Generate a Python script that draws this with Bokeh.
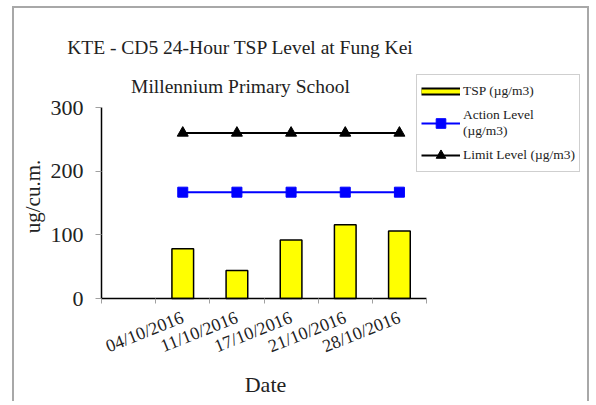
import math
import numpy as np
from bokeh.plotting import figure
from bokeh.models import Range1d, FixedTicker, Legend, LegendItem, Label
from bokeh.embed import file_html
from bokeh.resources import INLINE

# ---- data ----
categories = ["", "04/10/2016", "11/10/2016", "17/10/2016", "21/10/2016", "28/10/2016"]
tsp = [np.nan, 78, 44, 92, 116, 106]
action_level = [np.nan, 167, 167, 167, 167, 167]
limit_level = [np.nan, 260, 260, 260, 260, 260]
y_ticks = [0, 100, 200, 300]
title_lines = ["KTE - CD5 24-Hour TSP Level at Fung Kei", "Millennium Primary School"]
x_title = "Date"
y_title = "ug/cu.m."

FONT = "Liberation Serif"
idx = list(range(len(categories)))

# ---- layout (screen pixels; canvas = plot frame) ----
W, H = 577, 395
AX_LEFT, AX_BOTTOM = 87, 105     # axis origin measured from canvas left / bottom
AX_W, AX_H = 325, 191            # visible axis box size
x0, x1 = -0.5, len(categories) - 0.5
y0, y1 = 0, max(y_ticks)
px_x = AX_W / (x1 - x0)
px_y = AX_H / (y1 - y0)
xs = x0 - AX_LEFT / px_x
ys = y0 - AX_BOTTOM / px_y

p = figure(width=W, height=H, x_range=Range1d(xs, xs + W / px_x), y_range=Range1d(ys, ys + H / px_y),
           output_backend="svg", toolbar_location=None,
           min_border_left=0, min_border_right=0, min_border_top=0, min_border_bottom=0)
p.title = None
p.outline_line_color = None
p.xgrid.visible = False
p.ygrid.visible = False
p.background_fill_color = "white"
p.border_fill_color = "white"
p.styles = {"margin-left": "12px", "margin-top": "6px",
            "border-left": "2px solid #a8a8a8", "border-top": "2px solid #a8a8a8",
            "border-right": "2px solid #a8a8a8"}

# bars
bars = p.vbar(x=idx, top=tsp, width=0.4, fill_color="#FFFF00", line_color="black", line_width=1.5)
# lines
act_l = p.line(idx, action_level, line_color="#0000FF", line_width=2)
act_m = p.scatter(idx, action_level, marker="square", size=10, fill_color="#0000FF", line_color="#0000FF")
lim_l = p.line(idx, limit_level, line_color="black", line_width=2)
lim_m = p.scatter(idx, limit_level, marker="triangle", size=11, fill_color="black", line_color="black")

# legend-only glyphs for the flat bar swatch
leg_b = p.line([0], [np.nan], line_color="black", line_width=8)
leg_y = p.line([0], [np.nan], line_color="#FFFF00", line_width=4)

# axes (drawn at fixed positions inside the full-canvas frame)
xa = p.xaxis[0]
xa.fixed_location = y0
xa.bounds = (x0, x1)
xa.ticker = FixedTicker(ticks=idx, minor_ticks=[i - 0.5 for i in idx] + [idx[-1] + 0.5])
xa.major_label_overrides = {i: c for i, c in zip(idx, categories)}
xa.major_label_orientation = 0.38
xa.major_tick_line_color = None
xa.minor_tick_line_color = "#a0a0a0"
xa.minor_tick_out = 5
xa.minor_tick_in = 0
xa.axis_line_color = "black"
xa.axis_line_width = 1.5
xa.major_label_text_font = FONT
xa.major_label_text_font_size = "18px"
xa.major_label_text_color = "#222222"
xa.major_label_standoff = 12

ya = p.yaxis[0]
ya.fixed_location = x0
ya.bounds = (y0, y1)
ya.ticker = FixedTicker(ticks=y_ticks)
ya.minor_tick_line_color = None
ya.major_tick_line_color = "#a0a0a0"
ya.major_tick_out = 6
ya.major_tick_in = 0
ya.axis_line_color = "black"
ya.axis_line_width = 1.5
ya.major_label_text_font = FONT
ya.major_label_text_font_size = "22px"
ya.major_label_text_color = "#222222"
ya.major_label_standoff = 12

def add_text(text, x, y, size, angle=0.0, baseline="alphabetic"):
    p.add_layout(Label(x=x, y=y, x_units="screen", y_units="screen", text=text, angle=angle,
                       text_align="center", text_baseline=baseline,
                       text_font=FONT, text_font_size=size, text_color="#222222"))

# title (two centred lines)
add_text(title_lines[0], 226, 356, "19.5px")
add_text(title_lines[1], 226, 317, "19.5px")
# axis titles
add_text(x_title, 251, 19, "22px")
add_text(y_title, 18, 207, "21px", angle=math.pi / 2, baseline="middle")

legend = Legend(items=[
    LegendItem(label="TSP (µg/m3)", renderers=[leg_b, leg_y]),
    LegendItem(label="Action Level\n(µg/m3)", renderers=[act_l, act_m]),
    LegendItem(label="Limit Level (µg/m3)", renderers=[lim_l, lim_m]),
], location=(402, 231))
legend.label_text_font = FONT
legend.label_text_font_size = "13.5px"
legend.label_text_color = "#222222"
legend.glyph_width = 39
legend.glyph_height = 24
legend.label_height = 15
legend.label_standoff = 3
legend.spacing = 4
legend.padding = 4
legend.margin = 0
legend.border_line_color = "#a0a0a0"
legend.border_line_width = 1
legend.background_fill_color = "white"
legend.background_fill_alpha = 1
p.add_layout(legend, "center")

open("out.html", "w").write(file_html(p, INLINE))
